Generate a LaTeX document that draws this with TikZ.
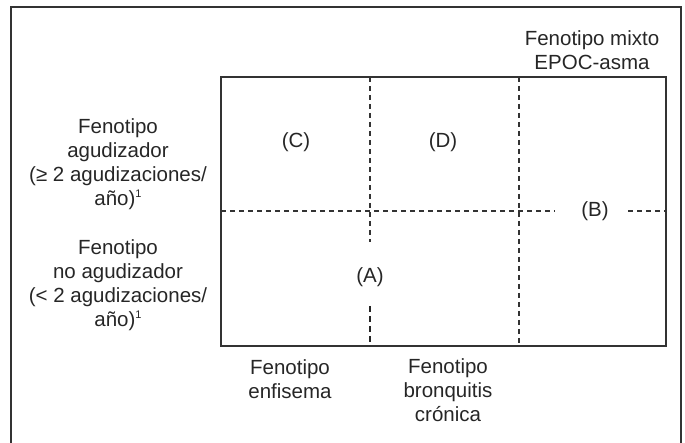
\documentclass[tikz,border=0pt]{standalone}
\usepackage{fontspec}
\setmainfont{Liberation Sans}
\newcommand{\supone}{\raisebox{0.75ex}{\fontsize{11}{11}\selectfont 1}}
\begin{document}
\begin{tikzpicture}[x=1pt,y=-1pt,
  lbl/.style={inner sep=0pt,align=center,text=black!85,font=\fontsize{20.5}{24}\selectfont},
  frameline/.style={line width=1.8pt,draw=black!80},
  boxline/.style={line width=1.3pt,draw=black!80},
  dashline/.style={line width=1.2pt,draw=black!80,dash pattern=on 5pt off 4pt},
  thickdash/.style={line width=1.8pt,draw=black!85,dash pattern=on 6pt off 4pt}]
\useasboundingbox (0,0) rectangle (685,443);
% outer frame (bottom edge cut off)
\draw[frameline] (11,443) -- (11,7) -- (681,7) -- (681,443);
% inner box
\coordinate (tl) at (221,77);
\coordinate (br) at (666,346);
\draw[boxline] (tl) rectangle (br);
% dashed dividers
\coordinate (v1t) at (370,77);
\coordinate (v1m) at (370,242);
\coordinate (v1s) at (370,306);
\coordinate (v1b) at (370,346);
\coordinate (v2t) at (519,77);
\coordinate (v2b) at (519,346);
\coordinate (h1) at (221,211);
\coordinate (h2) at (555,211);
\coordinate (h3) at (628,211);
\coordinate (h4) at (666,211);
\draw[dashline] (v1t) -- (v1m);
\draw[thickdash] (v1s) -- (v1b);
\draw[dashline] (v2t) -- (v2b);
\draw[dashline] (h1) -- (h2);
\draw[dashline] (h3) -- (h4);
% region labels
\node[lbl] (C) at (296,142) {(C)};
\node[lbl] (D) at (443,142) {(D)};
\node[lbl] (B) at (595,211) {(B)};
\node[lbl] (A) at (370,277) {(A)};
% axis labels
\node[lbl] (mixto) at (592,50) {Fenotipo mixto\\EPOC-asma};
\node[lbl] (agud) at (118,164) {Fenotipo\\agudizador\\(≥ 2 agudizaciones/\\año)\supone};
\node[lbl] (noagud) at (118,285) {Fenotipo\\no agudizador\\(< 2 agudizaciones/\\año)\supone};
\node[lbl] (enf) at (290,379) {Fenotipo\\enfisema};
\node[lbl] (bron) at (448,390) {Fenotipo\\bronquitis\\crónica};
\end{tikzpicture}
\end{document}
